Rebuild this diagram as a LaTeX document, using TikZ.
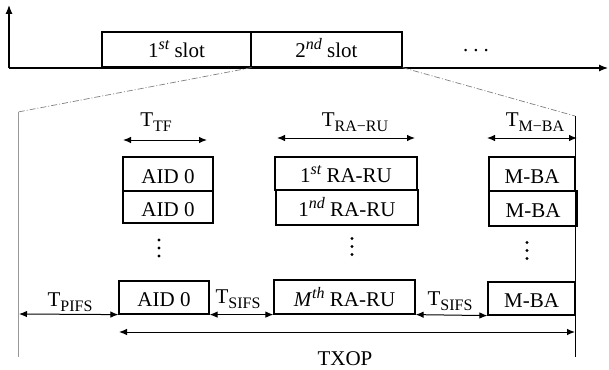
\documentclass[tikz,border=0pt]{standalone}
\usepackage{fontspec}
\setmainfont{Liberation Serif}
\usetikzlibrary{arrows.meta}
\newcommand{\sbs}[1]{\raisebox{-5pt}{\fontsize{16}{16}\selectfont #1}}
\newcommand{\sps}[1]{\raisebox{8pt}{\fontsize{16}{16}\selectfont\itshape #1}}
\begin{document}
\begin{tikzpicture}[x=1pt,y=-1pt,font=\fontsize{21}{25}\selectfont,
  box/.style={draw,line width=1.2pt,inner sep=0pt,text height=18pt,text depth=0pt},
  lbl/.style={inner sep=0pt,anchor=base},
  dim/.style={{Latex[length=8pt,width=6.5pt]}-{Latex[length=8pt,width=6.5pt]},line width=1pt},
  axis/.style={-{Latex[length=9pt,width=7pt]},line width=1.2pt},
  zoomline/.style={gray,line width=0.7pt,dash pattern=on 6pt off 2pt on 1pt off 2pt},
  vdot/.style={fill=black,draw=none}]
\useasboundingbox (0,0) rectangle (609,369);

% top axis
\coordinate (o) at (9,68);
\coordinate (ytip) at (9,5);
\coordinate (xtip) at (608,68);
\draw[axis] (o) -- (ytip);
\draw[axis] (o) -- (xtip);

% slots
\node[box,minimum width=149pt,minimum height=35pt,text height=15pt] (slot1) at (176.5,49.5) {1\sps{st} slot};
\node[box,minimum width=151pt,minimum height=35pt,text height=15pt] (slot2) at (326.5,49.5) {2\sps{nd} slot};
\node[lbl] (hdots) at (476,52) {.\hspace{5pt}.\hspace{5pt}.};

% zoom lines
\coordinate (zl) at (18,112);
\coordinate (zr) at (575,116);
\coordinate (zlb) at (18,357);
\coordinate (zrb) at (575,357);
\draw[zoomline] (slot1.south east) -- (zl);
\draw[zoomline] (slot2.south east) -- (zr);
\draw[gray!80,line width=1pt] (zl) -- (zlb);
\draw[line width=1pt] (zr) -- (zrb);

% column headers
\node[lbl] (ttf) at (156,126) {T\sbs{TF}};
\node[lbl] (tra) at (355,126) {T\sbs{RA−RU}};
\node[lbl] (tmba) at (535,126) {T\sbs{M−BA}};
\coordinate (ttfL) at (123,140); \coordinate (ttfR) at (207,140);
\coordinate (traL) at (277,138); \coordinate (traR) at (415,138);
\coordinate (tmbaL) at (487,138); \coordinate (tmbaR) at (577,138);
\draw[dim] (ttfL) -- (ttfR);
\draw[dim] (traL) -- (traR);
\draw[dim] (tmbaL) -- (tmbaR);

% AID column
\node[box,minimum width=90pt,minimum height=34pt] (aid1) at (168,174) {AID 0};
\node[box,minimum width=90pt,minimum height=32pt] (aid2) at (168,207) {AID 0};
\foreach \yy in {240,248,256} \fill[vdot] (159,\yy) circle (1.6pt);
\node[box,minimum width=90pt,minimum height=33pt] (aid3) at (164,297.5) {AID 0};

% RA-RU column
\node[box,minimum width=142pt,minimum height=33pt] (ru1) at (346,173.5) {1\sps{st} RA-RU};
\node[box,minimum width=142pt,minimum height=35pt] (ru2) at (347,207.5) {1\sps{nd} RA-RU};
\foreach \yy in {238.5,246.5,254.5} \fill[vdot] (352,\yy) circle (1.6pt);
\node[box,minimum width=141pt,minimum height=34pt] (ruM) at (344.5,297) {\textit{M}\sps{th} RA-RU};

% M-BA column
\node[box,minimum width=86pt,minimum height=34pt] (mba1) at (532,174) {M-BA};
\node[box,minimum width=88pt,minimum height=35pt] (mba2) at (533,208.5) {M-BA};
\foreach \yy in {242.5,250.5,258.5} \fill[vdot] (527,\yy) circle (1.6pt);
\node[box,minimum width=87pt,minimum height=33pt] (mba3) at (531.5,298.5) {M-BA};

% bottom timing
\coordinate (pifsL) at (19,314);
\draw[dim] (pifsL) -- (aid3.south west);
\draw[dim] (aid3.south east) -- (ruM.south west);
\draw[dim] (ruM.south east) -- (mba3.south west);
\node[lbl] (tpifs) at (70,306) {T\sbs{PIFS}};
\node[lbl] (tsifs1) at (238,303) {T\sbs{SIFS}};
\node[lbl] (tsifs2) at (450,305) {T\sbs{SIFS}};

\coordinate (txL) at (119,332);
\coordinate (txR) at (575,332);
\draw[dim] (txL) -- (txR);
\node[lbl] (txop) at (345,365) {TXOP};
\end{tikzpicture}
\end{document}
